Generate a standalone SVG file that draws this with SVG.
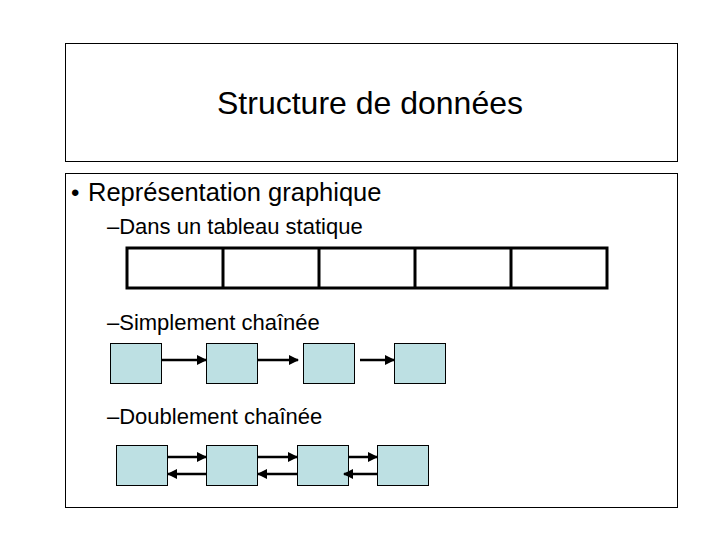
<svg xmlns="http://www.w3.org/2000/svg" width="720" height="540" viewBox="0 0 720 540">
<style>
.frame{fill:#fff;stroke:#000;stroke-width:1}
.t{font-family:"Liberation Sans",Arial,sans-serif;fill:#000}
.sub{font-size:22px}
.cell{fill:#fff;stroke:#000;stroke-width:3}
.node{fill:#bde0e3;stroke:#000;stroke-width:1}
.arr{stroke:#000;stroke-width:2.5;fill:none;marker-end:url(#ah)}
</style>
<defs>
<marker id="ah" viewBox="0 0 10 10" refX="9" refY="5" markerWidth="4" markerHeight="4" orient="auto" markerUnits="strokeWidth">
<path d="M0,0 L10,5 L0,10 z" fill="#000"/>
</marker>
</defs>
<rect width="720" height="540" fill="#fff"/>
<g id="title">
<rect class="frame" x="65.5" y="43.5" width="612" height="118"/>
<text class="t" x="370" y="114" font-size="32" text-anchor="middle">Structure de données</text>
</g>
<g id="content">
<rect class="frame" x="65.5" y="173.5" width="612" height="334"/>
<text class="t" x="71" y="201" font-size="24">•</text>
<text class="t" x="88" y="201" font-size="25.5">Représentation graphique</text>
<text class="t sub" x="107" y="234">–Dans un tableau statique</text>
<text class="t sub" x="107" y="330">–Simplement chaînée</text>
<text class="t sub" x="107" y="424">–Doublement chaînée</text>
</g>
<g id="tableau">
<rect class="cell" x="127" y="248" width="480" height="40"/>
<line x1="223" y1="248" x2="223" y2="288" stroke="#000" stroke-width="3"/>
<line x1="319" y1="248" x2="319" y2="288" stroke="#000" stroke-width="3"/>
<line x1="415" y1="248" x2="415" y2="288" stroke="#000" stroke-width="3"/>
<line x1="511" y1="248" x2="511" y2="288" stroke="#000" stroke-width="3"/>
</g>
<g id="s1"><rect class="node" x="110.5" y="343.5" width="51" height="40"/></g>
<g id="s2"><rect class="node" x="206.5" y="343.5" width="51" height="40"/></g>
<g id="s3"><rect class="node" x="303.5" y="343.5" width="51" height="40"/></g>
<g id="s4"><rect class="node" x="394.5" y="343.5" width="51" height="40"/></g>
<g id="d1"><rect class="node" x="116.5" y="445.5" width="51" height="40"/></g>
<g id="d2"><rect class="node" x="206.5" y="445.5" width="51" height="40"/></g>
<g id="d3"><rect class="node" x="297.5" y="445.5" width="51" height="40"/></g>
<g id="d4"><rect class="node" x="377.5" y="445.5" width="51" height="40"/></g>
<g id="connectors">
<line class="arr" x1="162" y1="360" x2="206" y2="360"/>
<line class="arr" x1="258" y1="360" x2="298" y2="360"/>
<line class="arr" x1="360" y1="360" x2="394" y2="360"/>
<line class="arr" x1="168" y1="457" x2="206" y2="457"/>
<line class="arr" x1="258" y1="457" x2="297" y2="457"/>
<line class="arr" x1="349" y1="457" x2="377" y2="457"/>
<line class="arr" x1="206" y1="474" x2="168" y2="474"/>
<line class="arr" x1="297" y1="474" x2="258" y2="474"/>
<line class="arr" x1="377" y1="474" x2="344" y2="474"/>
</g>
</svg>
